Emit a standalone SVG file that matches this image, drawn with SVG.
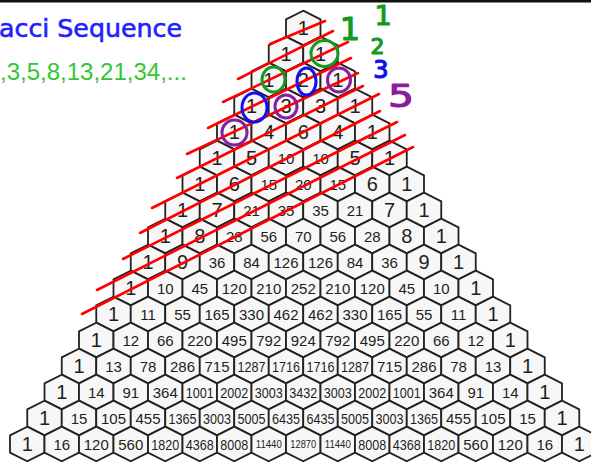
<svg xmlns="http://www.w3.org/2000/svg" xmlns:xlink="http://www.w3.org/1999/xlink" width="591" height="463" viewBox="0 0 591 463">
<style>
text.n{font-family:"Liberation Sans",Arial,sans-serif;fill:#1e1e1e;text-anchor:middle}
text.a{font-size:20px}
text.b{font-size:15px}
text.c{font-size:15px;text-anchor:start}
text.e{font-size:11px;text-anchor:start}
#strike-lines line{stroke:#ff0000;stroke-width:2.6;stroke-linecap:round}
#circles ellipse{fill:none;stroke-width:3}
.hw{font-family:"DejaVu Sans",sans-serif;stroke-width:1.2;stroke-linejoin:round}
</style>
<defs>
<polygon id="h" points="0,-17.33 17.25,-8.67 17.25,8.67 0,17.33 -17.25,8.67 -17.25,-8.67" fill="#f7f7f7" stroke="#222" stroke-width="1.8"/>
</defs>
<rect x="0" y="0" width="591" height="463" fill="#ffffff"/>
<rect x="0" y="0" width="591" height="2.5" fill="#111"/>
<g id="title">
<text x="-1" y="37" font-family="'DejaVu Sans',sans-serif" font-size="25" fill="#1f1fff" stroke="#1f1fff" stroke-width="0.6" textLength="183" lengthAdjust="spacingAndGlyphs">acci Sequence</text>
<text x="0" y="80" font-family="'Liberation Sans',Arial,sans-serif" font-size="24" fill="#33c633">,3,5,8,13,21,34,...</text>
</g>
<g id="triangle">
<g id="n0-0" transform="translate(303.25,28)"><use href="#h"/><text class="n a" y="7">1</text></g>
<g id="n1-0" transform="translate(286,54)"><use href="#h"/><text class="n a" y="7">1</text></g>
<g id="n1-1" transform="translate(320.5,54)"><use href="#h"/><text class="n a" y="7">1</text></g>
<g id="n2-0" transform="translate(268.75,80)"><use href="#h"/><text class="n a" y="7">1</text></g>
<g id="n2-1" transform="translate(303.25,80)"><use href="#h"/><text class="n a" y="7">2</text></g>
<g id="n2-2" transform="translate(337.75,80)"><use href="#h"/><text class="n a" y="7">1</text></g>
<g id="n3-0" transform="translate(251.5,106)"><use href="#h"/><text class="n a" y="7">1</text></g>
<g id="n3-1" transform="translate(286,106)"><use href="#h"/><text class="n a" y="7">3</text></g>
<g id="n3-2" transform="translate(320.5,106)"><use href="#h"/><text class="n a" y="7">3</text></g>
<g id="n3-3" transform="translate(355,106)"><use href="#h"/><text class="n a" y="7">1</text></g>
<g id="n4-0" transform="translate(234.25,132)"><use href="#h"/><text class="n a" y="7">1</text></g>
<g id="n4-1" transform="translate(268.75,132)"><use href="#h"/><text class="n a" y="7">4</text></g>
<g id="n4-2" transform="translate(303.25,132)"><use href="#h"/><text class="n a" y="7">6</text></g>
<g id="n4-3" transform="translate(337.75,132)"><use href="#h"/><text class="n a" y="7">4</text></g>
<g id="n4-4" transform="translate(372.25,132)"><use href="#h"/><text class="n a" y="7">1</text></g>
<g id="n5-0" transform="translate(217,158)"><use href="#h"/><text class="n a" y="7">1</text></g>
<g id="n5-1" transform="translate(251.5,158)"><use href="#h"/><text class="n a" y="7">5</text></g>
<g id="n5-2" transform="translate(286,158)"><use href="#h"/><text class="n b" y="5.5">10</text></g>
<g id="n5-3" transform="translate(320.5,158)"><use href="#h"/><text class="n b" y="5.5">10</text></g>
<g id="n5-4" transform="translate(355,158)"><use href="#h"/><text class="n a" y="7">5</text></g>
<g id="n5-5" transform="translate(389.5,158)"><use href="#h"/><text class="n a" y="7">1</text></g>
<g id="n6-0" transform="translate(199.75,184)"><use href="#h"/><text class="n a" y="7">1</text></g>
<g id="n6-1" transform="translate(234.25,184)"><use href="#h"/><text class="n a" y="7">6</text></g>
<g id="n6-2" transform="translate(268.75,184)"><use href="#h"/><text class="n b" y="5.5">15</text></g>
<g id="n6-3" transform="translate(303.25,184)"><use href="#h"/><text class="n b" y="5.5">20</text></g>
<g id="n6-4" transform="translate(337.75,184)"><use href="#h"/><text class="n b" y="5.5">15</text></g>
<g id="n6-5" transform="translate(372.25,184)"><use href="#h"/><text class="n a" y="7">6</text></g>
<g id="n6-6" transform="translate(406.75,184)"><use href="#h"/><text class="n a" y="7">1</text></g>
<g id="n7-0" transform="translate(182.5,210)"><use href="#h"/><text class="n a" y="7">1</text></g>
<g id="n7-1" transform="translate(217,210)"><use href="#h"/><text class="n a" y="7">7</text></g>
<g id="n7-2" transform="translate(251.5,210)"><use href="#h"/><text class="n b" y="5.5">21</text></g>
<g id="n7-3" transform="translate(286,210)"><use href="#h"/><text class="n b" y="5.5">35</text></g>
<g id="n7-4" transform="translate(320.5,210)"><use href="#h"/><text class="n b" y="5.5">35</text></g>
<g id="n7-5" transform="translate(355,210)"><use href="#h"/><text class="n b" y="5.5">21</text></g>
<g id="n7-6" transform="translate(389.5,210)"><use href="#h"/><text class="n a" y="7">7</text></g>
<g id="n7-7" transform="translate(424,210)"><use href="#h"/><text class="n a" y="7">1</text></g>
<g id="n8-0" transform="translate(165.25,236)"><use href="#h"/><text class="n a" y="7">1</text></g>
<g id="n8-1" transform="translate(199.75,236)"><use href="#h"/><text class="n a" y="7">8</text></g>
<g id="n8-2" transform="translate(234.25,236)"><use href="#h"/><text class="n b" y="5.5">28</text></g>
<g id="n8-3" transform="translate(268.75,236)"><use href="#h"/><text class="n b" y="5.5">56</text></g>
<g id="n8-4" transform="translate(303.25,236)"><use href="#h"/><text class="n b" y="5.5">70</text></g>
<g id="n8-5" transform="translate(337.75,236)"><use href="#h"/><text class="n b" y="5.5">56</text></g>
<g id="n8-6" transform="translate(372.25,236)"><use href="#h"/><text class="n b" y="5.5">28</text></g>
<g id="n8-7" transform="translate(406.75,236)"><use href="#h"/><text class="n a" y="7">8</text></g>
<g id="n8-8" transform="translate(441.25,236)"><use href="#h"/><text class="n a" y="7">1</text></g>
<g id="n9-0" transform="translate(148,262)"><use href="#h"/><text class="n a" y="7">1</text></g>
<g id="n9-1" transform="translate(182.5,262)"><use href="#h"/><text class="n a" y="7">9</text></g>
<g id="n9-2" transform="translate(217,262)"><use href="#h"/><text class="n b" y="5.5">36</text></g>
<g id="n9-3" transform="translate(251.5,262)"><use href="#h"/><text class="n b" y="5.5">84</text></g>
<g id="n9-4" transform="translate(286,262)"><use href="#h"/><text class="n b" y="5.5">126</text></g>
<g id="n9-5" transform="translate(320.5,262)"><use href="#h"/><text class="n b" y="5.5">126</text></g>
<g id="n9-6" transform="translate(355,262)"><use href="#h"/><text class="n b" y="5.5">84</text></g>
<g id="n9-7" transform="translate(389.5,262)"><use href="#h"/><text class="n b" y="5.5">36</text></g>
<g id="n9-8" transform="translate(424,262)"><use href="#h"/><text class="n a" y="7">9</text></g>
<g id="n9-9" transform="translate(458.5,262)"><use href="#h"/><text class="n a" y="7">1</text></g>
<g id="n10-0" transform="translate(130.75,288)"><use href="#h"/><text class="n a" y="7">1</text></g>
<g id="n10-1" transform="translate(165.25,288)"><use href="#h"/><text class="n b" y="5.5">10</text></g>
<g id="n10-2" transform="translate(199.75,288)"><use href="#h"/><text class="n b" y="5.5">45</text></g>
<g id="n10-3" transform="translate(234.25,288)"><use href="#h"/><text class="n b" y="5.5">120</text></g>
<g id="n10-4" transform="translate(268.75,288)"><use href="#h"/><text class="n b" y="5.5">210</text></g>
<g id="n10-5" transform="translate(303.25,288)"><use href="#h"/><text class="n b" y="5.5">252</text></g>
<g id="n10-6" transform="translate(337.75,288)"><use href="#h"/><text class="n b" y="5.5">210</text></g>
<g id="n10-7" transform="translate(372.25,288)"><use href="#h"/><text class="n b" y="5.5">120</text></g>
<g id="n10-8" transform="translate(406.75,288)"><use href="#h"/><text class="n b" y="5.5">45</text></g>
<g id="n10-9" transform="translate(441.25,288)"><use href="#h"/><text class="n b" y="5.5">10</text></g>
<g id="n10-10" transform="translate(475.75,288)"><use href="#h"/><text class="n a" y="7">1</text></g>
<g id="n11-0" transform="translate(113.5,314)"><use href="#h"/><text class="n a" y="7">1</text></g>
<g id="n11-1" transform="translate(148,314)"><use href="#h"/><text class="n b" y="5.5">11</text></g>
<g id="n11-2" transform="translate(182.5,314)"><use href="#h"/><text class="n b" y="5.5">55</text></g>
<g id="n11-3" transform="translate(217,314)"><use href="#h"/><text class="n b" y="5.5">165</text></g>
<g id="n11-4" transform="translate(251.5,314)"><use href="#h"/><text class="n b" y="5.5">330</text></g>
<g id="n11-5" transform="translate(286,314)"><use href="#h"/><text class="n b" y="5.5">462</text></g>
<g id="n11-6" transform="translate(320.5,314)"><use href="#h"/><text class="n b" y="5.5">462</text></g>
<g id="n11-7" transform="translate(355,314)"><use href="#h"/><text class="n b" y="5.5">330</text></g>
<g id="n11-8" transform="translate(389.5,314)"><use href="#h"/><text class="n b" y="5.5">165</text></g>
<g id="n11-9" transform="translate(424,314)"><use href="#h"/><text class="n b" y="5.5">55</text></g>
<g id="n11-10" transform="translate(458.5,314)"><use href="#h"/><text class="n b" y="5.5">11</text></g>
<g id="n11-11" transform="translate(493,314)"><use href="#h"/><text class="n a" y="7">1</text></g>
<g id="n12-0" transform="translate(96.25,340)"><use href="#h"/><text class="n a" y="7">1</text></g>
<g id="n12-1" transform="translate(130.75,340)"><use href="#h"/><text class="n b" y="5.5">12</text></g>
<g id="n12-2" transform="translate(165.25,340)"><use href="#h"/><text class="n b" y="5.5">66</text></g>
<g id="n12-3" transform="translate(199.75,340)"><use href="#h"/><text class="n b" y="5.5">220</text></g>
<g id="n12-4" transform="translate(234.25,340)"><use href="#h"/><text class="n b" y="5.5">495</text></g>
<g id="n12-5" transform="translate(268.75,340)"><use href="#h"/><text class="n b" y="5.5">792</text></g>
<g id="n12-6" transform="translate(303.25,340)"><use href="#h"/><text class="n b" y="5.5">924</text></g>
<g id="n12-7" transform="translate(337.75,340)"><use href="#h"/><text class="n b" y="5.5">792</text></g>
<g id="n12-8" transform="translate(372.25,340)"><use href="#h"/><text class="n b" y="5.5">495</text></g>
<g id="n12-9" transform="translate(406.75,340)"><use href="#h"/><text class="n b" y="5.5">220</text></g>
<g id="n12-10" transform="translate(441.25,340)"><use href="#h"/><text class="n b" y="5.5">66</text></g>
<g id="n12-11" transform="translate(475.75,340)"><use href="#h"/><text class="n b" y="5.5">12</text></g>
<g id="n12-12" transform="translate(510.25,340)"><use href="#h"/><text class="n a" y="7">1</text></g>
<g id="n13-0" transform="translate(79,366)"><use href="#h"/><text class="n a" y="7">1</text></g>
<g id="n13-1" transform="translate(113.5,366)"><use href="#h"/><text class="n b" y="5.5">13</text></g>
<g id="n13-2" transform="translate(148,366)"><use href="#h"/><text class="n b" y="5.5">78</text></g>
<g id="n13-3" transform="translate(182.5,366)"><use href="#h"/><text class="n b" y="5.5">286</text></g>
<g id="n13-4" transform="translate(217,366)"><use href="#h"/><text class="n b" y="5.5">715</text></g>
<g id="n13-5" transform="translate(251.5,366)"><use href="#h"/><text class="n c" x="-14" y="5.5" textLength="28" lengthAdjust="spacingAndGlyphs">1287</text></g>
<g id="n13-6" transform="translate(286,366)"><use href="#h"/><text class="n c" x="-14" y="5.5" textLength="28" lengthAdjust="spacingAndGlyphs">1716</text></g>
<g id="n13-7" transform="translate(320.5,366)"><use href="#h"/><text class="n c" x="-14" y="5.5" textLength="28" lengthAdjust="spacingAndGlyphs">1716</text></g>
<g id="n13-8" transform="translate(355,366)"><use href="#h"/><text class="n c" x="-14" y="5.5" textLength="28" lengthAdjust="spacingAndGlyphs">1287</text></g>
<g id="n13-9" transform="translate(389.5,366)"><use href="#h"/><text class="n b" y="5.5">715</text></g>
<g id="n13-10" transform="translate(424,366)"><use href="#h"/><text class="n b" y="5.5">286</text></g>
<g id="n13-11" transform="translate(458.5,366)"><use href="#h"/><text class="n b" y="5.5">78</text></g>
<g id="n13-12" transform="translate(493,366)"><use href="#h"/><text class="n b" y="5.5">13</text></g>
<g id="n13-13" transform="translate(527.5,366)"><use href="#h"/><text class="n a" y="7">1</text></g>
<g id="n14-0" transform="translate(61.75,392)"><use href="#h"/><text class="n a" y="7">1</text></g>
<g id="n14-1" transform="translate(96.25,392)"><use href="#h"/><text class="n b" y="5.5">14</text></g>
<g id="n14-2" transform="translate(130.75,392)"><use href="#h"/><text class="n b" y="5.5">91</text></g>
<g id="n14-3" transform="translate(165.25,392)"><use href="#h"/><text class="n b" y="5.5">364</text></g>
<g id="n14-4" transform="translate(199.75,392)"><use href="#h"/><text class="n c" x="-14" y="5.5" textLength="28" lengthAdjust="spacingAndGlyphs">1001</text></g>
<g id="n14-5" transform="translate(234.25,392)"><use href="#h"/><text class="n c" x="-14" y="5.5" textLength="28" lengthAdjust="spacingAndGlyphs">2002</text></g>
<g id="n14-6" transform="translate(268.75,392)"><use href="#h"/><text class="n c" x="-14" y="5.5" textLength="28" lengthAdjust="spacingAndGlyphs">3003</text></g>
<g id="n14-7" transform="translate(303.25,392)"><use href="#h"/><text class="n c" x="-14" y="5.5" textLength="28" lengthAdjust="spacingAndGlyphs">3432</text></g>
<g id="n14-8" transform="translate(337.75,392)"><use href="#h"/><text class="n c" x="-14" y="5.5" textLength="28" lengthAdjust="spacingAndGlyphs">3003</text></g>
<g id="n14-9" transform="translate(372.25,392)"><use href="#h"/><text class="n c" x="-14" y="5.5" textLength="28" lengthAdjust="spacingAndGlyphs">2002</text></g>
<g id="n14-10" transform="translate(406.75,392)"><use href="#h"/><text class="n c" x="-14" y="5.5" textLength="28" lengthAdjust="spacingAndGlyphs">1001</text></g>
<g id="n14-11" transform="translate(441.25,392)"><use href="#h"/><text class="n b" y="5.5">364</text></g>
<g id="n14-12" transform="translate(475.75,392)"><use href="#h"/><text class="n b" y="5.5">91</text></g>
<g id="n14-13" transform="translate(510.25,392)"><use href="#h"/><text class="n b" y="5.5">14</text></g>
<g id="n14-14" transform="translate(544.75,392)"><use href="#h"/><text class="n a" y="7">1</text></g>
<g id="n15-0" transform="translate(44.5,418)"><use href="#h"/><text class="n a" y="7">1</text></g>
<g id="n15-1" transform="translate(79,418)"><use href="#h"/><text class="n b" y="5.5">15</text></g>
<g id="n15-2" transform="translate(113.5,418)"><use href="#h"/><text class="n b" y="5.5">105</text></g>
<g id="n15-3" transform="translate(148,418)"><use href="#h"/><text class="n b" y="5.5">455</text></g>
<g id="n15-4" transform="translate(182.5,418)"><use href="#h"/><text class="n c" x="-14" y="5.5" textLength="28" lengthAdjust="spacingAndGlyphs">1365</text></g>
<g id="n15-5" transform="translate(217,418)"><use href="#h"/><text class="n c" x="-14" y="5.5" textLength="28" lengthAdjust="spacingAndGlyphs">3003</text></g>
<g id="n15-6" transform="translate(251.5,418)"><use href="#h"/><text class="n c" x="-14" y="5.5" textLength="28" lengthAdjust="spacingAndGlyphs">5005</text></g>
<g id="n15-7" transform="translate(286,418)"><use href="#h"/><text class="n c" x="-14" y="5.5" textLength="28" lengthAdjust="spacingAndGlyphs">6435</text></g>
<g id="n15-8" transform="translate(320.5,418)"><use href="#h"/><text class="n c" x="-14" y="5.5" textLength="28" lengthAdjust="spacingAndGlyphs">6435</text></g>
<g id="n15-9" transform="translate(355,418)"><use href="#h"/><text class="n c" x="-14" y="5.5" textLength="28" lengthAdjust="spacingAndGlyphs">5005</text></g>
<g id="n15-10" transform="translate(389.5,418)"><use href="#h"/><text class="n c" x="-14" y="5.5" textLength="28" lengthAdjust="spacingAndGlyphs">3003</text></g>
<g id="n15-11" transform="translate(424,418)"><use href="#h"/><text class="n c" x="-14" y="5.5" textLength="28" lengthAdjust="spacingAndGlyphs">1365</text></g>
<g id="n15-12" transform="translate(458.5,418)"><use href="#h"/><text class="n b" y="5.5">455</text></g>
<g id="n15-13" transform="translate(493,418)"><use href="#h"/><text class="n b" y="5.5">105</text></g>
<g id="n15-14" transform="translate(527.5,418)"><use href="#h"/><text class="n b" y="5.5">15</text></g>
<g id="n15-15" transform="translate(562,418)"><use href="#h"/><text class="n a" y="7">1</text></g>
<g id="n16-0" transform="translate(27.25,444)"><use href="#h"/><text class="n a" y="7">1</text></g>
<g id="n16-1" transform="translate(61.75,444)"><use href="#h"/><text class="n b" y="5.5">16</text></g>
<g id="n16-2" transform="translate(96.25,444)"><use href="#h"/><text class="n b" y="5.5">120</text></g>
<g id="n16-3" transform="translate(130.75,444)"><use href="#h"/><text class="n b" y="5.5">560</text></g>
<g id="n16-4" transform="translate(165.25,444)"><use href="#h"/><text class="n c" x="-14" y="5.5" textLength="28" lengthAdjust="spacingAndGlyphs">1820</text></g>
<g id="n16-5" transform="translate(199.75,444)"><use href="#h"/><text class="n c" x="-14" y="5.5" textLength="28" lengthAdjust="spacingAndGlyphs">4368</text></g>
<g id="n16-6" transform="translate(234.25,444)"><use href="#h"/><text class="n c" x="-14" y="5.5" textLength="28" lengthAdjust="spacingAndGlyphs">8008</text></g>
<g id="n16-7" transform="translate(268.75,444)"><use href="#h"/><text class="n e" x="-13" y="4" textLength="26" lengthAdjust="spacingAndGlyphs">11440</text></g>
<g id="n16-8" transform="translate(303.25,444)"><use href="#h"/><text class="n e" x="-13" y="4" textLength="26" lengthAdjust="spacingAndGlyphs">12870</text></g>
<g id="n16-9" transform="translate(337.75,444)"><use href="#h"/><text class="n e" x="-13" y="4" textLength="26" lengthAdjust="spacingAndGlyphs">11440</text></g>
<g id="n16-10" transform="translate(372.25,444)"><use href="#h"/><text class="n c" x="-14" y="5.5" textLength="28" lengthAdjust="spacingAndGlyphs">8008</text></g>
<g id="n16-11" transform="translate(406.75,444)"><use href="#h"/><text class="n c" x="-14" y="5.5" textLength="28" lengthAdjust="spacingAndGlyphs">4368</text></g>
<g id="n16-12" transform="translate(441.25,444)"><use href="#h"/><text class="n c" x="-14" y="5.5" textLength="28" lengthAdjust="spacingAndGlyphs">1820</text></g>
<g id="n16-13" transform="translate(475.75,444)"><use href="#h"/><text class="n b" y="5.5">560</text></g>
<g id="n16-14" transform="translate(510.25,444)"><use href="#h"/><text class="n b" y="5.5">120</text></g>
<g id="n16-15" transform="translate(544.75,444)"><use href="#h"/><text class="n b" y="5.5">16</text></g>
<g id="n16-16" transform="translate(579.25,444)"><use href="#h"/><text class="n a" y="7">1</text></g>
</g>
<g id="strike-lines">
<line x1="270" y1="44" x2="325" y2="21"/>
<line x1="238" y1="79" x2="333" y2="31"/>
<line x1="223" y1="102" x2="348" y2="42"/>
<line x1="208" y1="128" x2="351" y2="58"/>
<line x1="187" y1="154" x2="358" y2="73"/>
<line x1="177" y1="178" x2="363" y2="86"/>
<line x1="152" y1="208" x2="379" y2="94"/>
<line x1="140" y1="233" x2="380" y2="111"/>
<line x1="123" y1="259" x2="397" y2="122"/>
<line x1="97" y1="290" x2="405" y2="135"/>
<line x1="82" y1="314" x2="413" y2="147"/>
</g>
<g id="circles">
<ellipse cx="324.5" cy="53.5" rx="13.5" ry="13" stroke="#139a1f"/>
<ellipse cx="273.5" cy="79.5" rx="11.5" ry="12.5" stroke="#139a1f"/>
<ellipse cx="306.5" cy="81.5" rx="9.5" ry="13.5" stroke="#1010ee"/>
<ellipse cx="254.5" cy="107.5" rx="12.5" ry="14.5" stroke="#1010ee"/>
<ellipse cx="339" cy="80" rx="11.5" ry="12" stroke="#8a1c9e"/>
<ellipse cx="286" cy="106.5" rx="11" ry="11.5" stroke="#8a1c9e"/>
<ellipse cx="234.5" cy="132.5" rx="12.5" ry="12.5" stroke="#8a1c9e"/>
</g>
<g id="annotations">
<text class="hw" x="350" y="40" font-size="32" text-anchor="middle" fill="#139a1f" stroke="#139a1f">1</text>
<text class="hw" x="383" y="25" font-size="27" text-anchor="middle" fill="#139a1f" stroke="#139a1f">1</text>
<text class="hw" x="377.5" y="54" font-size="22" text-anchor="middle" fill="#139a1f" stroke="#139a1f">2</text>
<text class="hw" x="381" y="78" font-size="24" text-anchor="middle" fill="#1010ee" stroke="#1010ee">3</text>
<text class="hw" x="388" y="107" font-size="32" fill="#8a1c9e" stroke="#8a1c9e" textLength="26" lengthAdjust="spacingAndGlyphs">5</text>
</g>
</svg>
